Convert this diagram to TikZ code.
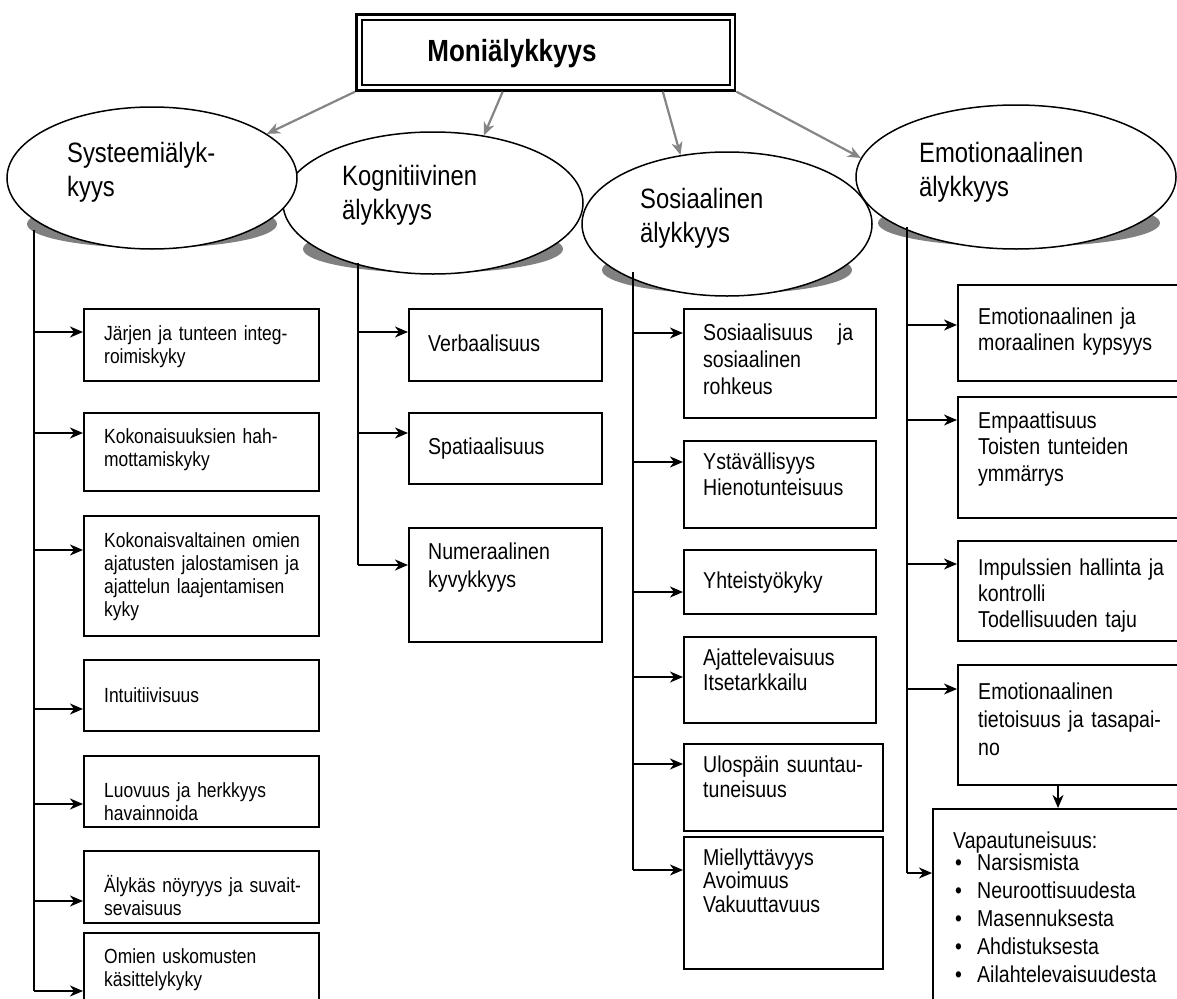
\documentclass[tikz,border=0pt]{standalone}
\usepackage{fontspec}
\setmainfont{Liberation Sans}[FakeStretch=0.85]
\usetikzlibrary{arrows.meta,shapes.geometric,calc}
\definecolor{shadowgray}{HTML}{808080}
\definecolor{arrowgray}{HTML}{858585}
\newcommand\ellfont{\fontsize{28}{34}\selectfont}
\newcommand\smallbox{\fontsize{20.5}{23}\selectfont}
\begin{document}
\begin{tikzpicture}[x=1pt, y=-1pt,
  ellnode/.style={ellipse, draw=black, line width=1.5pt, fill=white, inner sep=0pt},
  shade/.style={ellipse, fill=shadowgray, draw=none, inner sep=0pt},
  box/.style={rectangle, draw=black, line width=2pt, inner sep=0pt, anchor=north west},
  txt/.style={anchor=base west, inner sep=0pt, align=left, text width=260pt},
  trunk/.style={draw=black, line width=1.8pt},
  arr/.style={draw=black, line width=1.8pt, -{Stealth[length=13pt,width=11pt,inset=4pt]}},
  garr/.style={draw=arrowgray, line width=2.2pt, -{Stealth[length=13pt,width=11pt,inset=4pt]}},
]
\useasboundingbox (0,0) rectangle (1177,998);
\clip (0,0) rectangle (1177,998);

% title with double frame
\node[draw=black, line width=2.8pt, minimum width=378.5pt, minimum height=76pt, inner sep=0pt] (title) at (545.75,52.25) {};
\node[draw=black, line width=2pt, minimum width=367.5pt, minimum height=65pt, inner sep=0pt] (titlein) at (title.center) {};
\node[anchor=base, inner sep=0pt, font=\fontsize{30.6}{36}\selectfont\bfseries] (titletext) at (512,62) {Moniälykkyys};

% shadows under the four ellipses
\node[shade, minimum width=250pt, minimum height=48pt] (sysshadow) at (152,224) {};
\node[shade, minimum width=260pt, minimum height=48pt] (kogshadow) at (433,249) {};
\node[shade, minimum width=250pt, minimum height=48pt] (sosshadow) at (727,270) {};
\node[shade, minimum width=282pt, minimum height=48pt] (emoshadow) at (1019,223) {};

% ellipses
\node[ellnode, minimum width=320pt, minimum height=144pt] (emo) at (1016,177) {};
\node[ellnode, minimum width=290pt, minimum height=144pt] (sos) at (727,224) {};
\node[ellnode, minimum width=300pt, minimum height=142pt] (kog) at (433,203) {};
\node[ellnode, minimum width=290pt, minimum height=142pt] (sys) at (152,178) {};

\node[txt, font=\ellfont] (systext) at (67,162) {Systeemiälyk-\\kyys};
\node[txt, font=\ellfont] (kogtext) at (342,185) {Kognitiivinen\\älykkyys};
\node[txt, font=\ellfont] (sostext) at (640,208) {Sosiaalinen\\älykkyys};
\node[txt, font=\ellfont] (emotext) at (919,162) {Emotionaalinen\\älykkyys};

% grey arrows from the title
\draw[garr] (title.south west) -- (sys.21.7);
\draw[garr] ($(title.south west)!0.387!(title.south east)$) -- (kog.53.9);
\draw[garr] ($(title.south west)!0.807!(title.south east)$) -- (sos.124.1);
\draw[garr] (title.south east) -- (emo.173.9);

% ---- Systeemiälykkyys column
\node[box, minimum width=235pt, minimum height=72pt] (l1) at (83,308) {};
\node[box, minimum width=235pt, minimum height=78pt] (l2) at (83,412) {};
\node[box, minimum width=235pt, minimum height=120pt] (l3) at (83,515) {};
\node[box, minimum width=235pt, minimum height=71pt] (l4) at (83,659) {};
\node[box, minimum width=235pt, minimum height=71pt] (l5) at (83,755) {};
\node[box, minimum width=235pt, minimum height=72pt] (l6) at (83,850) {};
\node[box, minimum width=235pt, minimum height=90pt] (l7) at (83,932) {};
\node[txt, font=\smallbox] (l1t) at (104,340) {Järjen ja tunteen integ-\\roimiskyky};
\node[txt, font=\smallbox] (l2t) at (104,443) {Kokonaisuuksien hah-\\mottamiskyky};
\node[txt, font=\smallbox] (l3t) at (104,547) {Kokonaisvaltainen omien\\ajatusten jalostamisen ja\\ajattelun laajentamisen\\kyky};
\node[txt, font=\smallbox] (l4t) at (104,702) {Intuitiivisuus};
\node[txt, font=\smallbox] (l5t) at (104,797) {Luovuus ja herkkyys\\havainnoida};
\node[txt, font=\smallbox] (l6t) at (104,892) {Älykäs nöyryys ja suvait-\\sevaisuus};
\node[txt, font=\smallbox] (l7t) at (104,963) {Omien uskomusten\\käsittelykyky};

\coordinate (ltop) at (34,230);
\coordinate (la1) at (34,332);
\coordinate (la2) at (34,433);
\coordinate (la3) at (34,550);
\coordinate (la4) at (34,709);
\coordinate (la5) at (34,804);
\coordinate (la6) at (34,901);
\coordinate (la7) at (34,991);
\draw[trunk] (ltop) -- (la7);
\foreach \i in {1,...,7} {\draw[arr] (la\i) -- (la\i -| l\i.west);}

% ---- Kognitiivinen column
\node[box, minimum width=193pt, minimum height=72pt] (k1) at (408,308) {};
\node[box, minimum width=193pt, minimum height=71pt] (k2) at (408,412) {};
\node[box, minimum width=193pt, minimum height=114pt] (k3) at (408,527) {};
\node[txt, font=\fontsize{23}{28}\selectfont] (k1t) at (428,351) {Verbaalisuus};
\node[txt, font=\fontsize{23}{28}\selectfont] (k2t) at (428,454) {Spatiaalisuus};
\node[txt, font=\fontsize{23}{28}\selectfont] (k3t) at (428,559) {Numeraalinen\\kyvykkyys};

\coordinate (ktop) at (358,263);
\coordinate (ka1) at (358,332);
\coordinate (ka2) at (358,433);
\coordinate (ka3) at (358,565);
\draw[trunk] (ktop) -- (ka3);
\foreach \i in {1,2,3} {\draw[arr] (ka\i) -- (ka\i -| k\i.west);}

% ---- Sosiaalinen column
\node[box, minimum width=192pt, minimum height=109pt] (s1) at (683,308) {};
\node[box, minimum width=192pt, minimum height=87pt] (s2) at (683,440) {};
\node[box, minimum width=192pt, minimum height=64pt] (s3) at (683,549) {};
\node[box, minimum width=192pt, minimum height=86pt] (s4) at (683,636) {};
\node[box, minimum width=199pt, minimum height=87pt] (s5) at (683,743) {};
\node[box, minimum width=199pt, minimum height=132pt] (s6) at (683,836) {};
\node[txt, text width=150pt, font=\fontsize{23}{27}\selectfont] (s1t) at (703,340) {Sosiaalisuus\hfill ja\\sosiaalinen\\rohkeus};
\node[txt, font=\fontsize{23}{26}\selectfont] (s2t) at (703,469) {Ystävällisyys\\Hienotunteisuus};
\node[txt, font=\fontsize{23}{26}\selectfont] (s3t) at (703,588) {Yhteistyökyky};
\node[txt, font=\fontsize{23}{25}\selectfont] (s4t) at (703,665) {Ajattelevaisuus\\Itsetarkkailu};
\node[txt, font=\fontsize{23}{25}\selectfont] (s5t) at (703,772) {Ulospäin suuntau-\\tuneisuus};
\node[txt, font=\fontsize{23}{23.5}\selectfont] (s6t) at (703,865) {Miellyttävyys\\Avoimuus\\Vakuuttavuus};

\coordinate (stop) at (633,272);
\coordinate (sa1) at (633,333);
\coordinate (sa2) at (633,462);
\coordinate (sa3) at (633,592);
\coordinate (sa4) at (633,677);
\coordinate (sa5) at (633,764);
\coordinate (sa6) at (633,870);
\draw[trunk] (stop) -- (sa6);
\foreach \i in {1,...,6} {\draw[arr] (sa\i) -- (sa\i -| s\i.west);}

% ---- Emotionaalinen column
\node[box, minimum width=240pt, minimum height=96pt] (e1) at (957,284) {};
\node[box, minimum width=240pt, minimum height=121pt] (e2) at (957,396) {};
\node[box, minimum width=240pt, minimum height=100pt] (e3) at (957,540) {};
\node[box, minimum width=240pt, minimum height=120pt] (e4) at (957,664) {};
\node[box, minimum width=265pt, minimum height=220pt] (e5) at (932,808) {};
\node[txt, font=\fontsize{23}{26}\selectfont] (e1t) at (978,324) {Emotionaalinen ja\\moraalinen kypsyys};
\node[txt, font=\fontsize{23}{26.5}\selectfont] (e2t) at (978,428) {Empaattisuus\\Toisten tunteiden\\ymmärrys};
\node[txt, font=\fontsize{23}{26}\selectfont] (e3t) at (978,575) {Impulssien hallinta ja\\kontrolli\\Todellisuuden taju};
\node[txt, font=\fontsize{23}{28}\selectfont] (e4t) at (978,699) {Emotionaalinen\\tietoisuus ja tasapai-\\no};
\node[txt, font=\fontsize{23}{28}\selectfont] (e5t) at (953,848) {Vapautuneisuus:};
\node[txt, font=\fontsize{23}{28.2}\selectfont] (e5list) at (953,870) {%
\makebox[24pt][l]{\hspace{2pt}•}Narsismista\\
\makebox[24pt][l]{\hspace{2pt}•}Neuroottisuudesta\\
\makebox[24pt][l]{\hspace{2pt}•}Masennuksesta\\
\makebox[24pt][l]{\hspace{2pt}•}Ahdistuksesta\\
\makebox[24pt][l]{\hspace{2pt}•}Ailahtelevaisuudesta};

\coordinate (etop) at (907,227);
\coordinate (ea1) at (907,325);
\coordinate (ea2) at (907,420);
\coordinate (ea3) at (907,564);
\coordinate (ea4) at (907,689);
\coordinate (ea5) at (907,873);
\draw[trunk] (etop) -- (ea5);
\foreach \i in {1,...,5} {\draw[arr] (ea\i) -- (ea\i -| e\i.west);}
\coordinate (edrop) at (1058,800);
\draw[arr] (e4.south -| edrop) -- (e5.north -| edrop);
\end{tikzpicture}
\end{document}
